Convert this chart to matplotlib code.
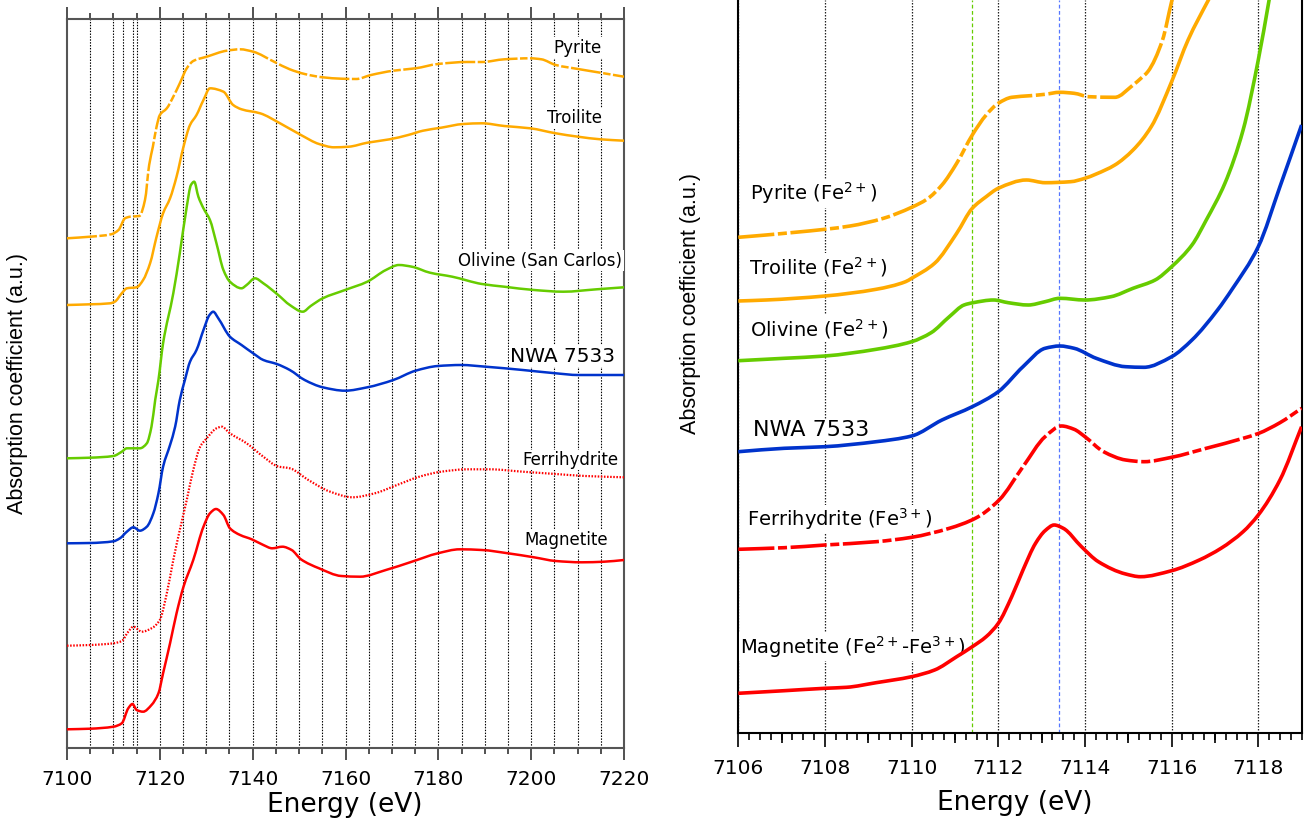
import numpy as np
import matplotlib
matplotlib.use('Agg')
import matplotlib.pyplot as plt
from matplotlib.ticker import MultipleLocator
from matplotlib.path import Path
from matplotlib.patches import PathPatch

plt.rcParams['font.family'] = ['DejaVu Sans']

ORANGE = '#FFAA00'
GREEN = '#66CC00'
BLUE = '#0033CC'
RED = '#FF0000'

# ---------------- Left panel (full XANES, 7100-7220 eV) ----------------
pyr_L_E = [7100, 7105, 7109.5, 7111.1, 7112.5, 7113.6, 7115.6, 7116.8, 7117.7, 7118.5, 7119.3, 7120,
           7121.5, 7122.9, 7124.3, 7125.8, 7127.2, 7130.1, 7134.4, 7137.3, 7140.1, 7144.6, 7148,
           7151.2, 7155.1, 7159.1, 7162.3, 7165.5, 7170.3, 7175.1, 7179.9, 7186.2, 7189.4, 7194.2,
           7199.8, 7202.2, 7205.3, 7210.1, 7214.9, 7220]
pyr_L_mu = [5.097, 5.113, 5.137, 5.18, 5.297, 5.313, 5.32, 5.48, 5.83, 6.013, 6.213, 6.33,
            6.397, 6.513, 6.647, 6.797, 6.87, 6.913, 6.973, 6.987, 6.963, 6.863, 6.787,
            6.74, 6.707, 6.693, 6.69, 6.73, 6.773, 6.797, 6.84, 6.86, 6.86, 6.887,
            6.897, 6.887, 6.83, 6.79, 6.753, 6.713]

tro_L_E = [7100, 7105, 7109.3, 7110.3, 7111.8, 7112.9, 7115, 7116.4, 7117.9, 7119.3, 7120.7, 7122.2,
           7123.6, 7125.1, 7126.5, 7127.9, 7129.4, 7130.8, 7133.7, 7135.8, 7137.6, 7141.6, 7145.9,
           7150.4, 7154.3, 7157.5, 7160.7, 7164.7, 7169.5, 7173.5, 7176.7, 7180.6, 7185.4, 7189.4,
           7194.2, 7199.8, 7205.3, 7210.1, 7214.9, 7220]
tro_L_mu = [4.43, 4.437, 4.447, 4.463, 4.547, 4.597, 4.607, 4.68, 4.847, 5.113, 5.347, 5.497,
            5.713, 6.013, 6.23, 6.33, 6.48, 6.597, 6.563, 6.43, 6.387, 6.347, 6.247,
            6.13, 6.04, 6.007, 6.013, 6.053, 6.087, 6.13, 6.173, 6.203, 6.24, 6.247,
            6.22, 6.197, 6.147, 6.113, 6.087, 6.073]

oli_L_E = [7100, 7105, 7110, 7111.8, 7112.9, 7115.7, 7117.2, 7118.2, 7119, 7119.7, 7120.7, 7122.9,
           7124.3, 7125.8, 7126.7, 7127.4, 7128.3, 7129.4, 7130.8, 7132.2, 7133.7, 7135.1, 7137.6,
           7138.7, 7140.5, 7142.3, 7145.5, 7148, 7150.8, 7152.5, 7155.1, 7159.9, 7164.7, 7168.7,
           7171.5, 7174.3, 7178.2, 7183, 7189.4, 7194.2, 7200.6, 7206.9, 7214.1, 7220]
oli_L_mu = [2.897, 2.903, 2.92, 2.963, 2.997, 2.997, 3.047, 3.213, 3.48, 3.68, 4.047, 4.547,
            4.947, 5.413, 5.63, 5.663, 5.513, 5.397, 5.28, 5.047, 4.78, 4.663, 4.597,
            4.63, 4.697, 4.647, 4.53, 4.43, 4.363, 4.42, 4.497, 4.58, 4.663, 4.78,
            4.83, 4.813, 4.753, 4.713, 4.64, 4.613, 4.58, 4.563, 4.587, 4.607]

nwa_L_E = [7100, 7105, 7110, 7111.4, 7112.9, 7114.3, 7115.7, 7117.2, 7118.6, 7119.7, 7120.7, 7122.2,
           7123.3, 7124.3, 7125.4, 7126.5, 7127.9, 7129.4, 7130.7, 7131.5, 7132.6, 7135.1, 7137.6,
           7140.1, 7142.3, 7145.2, 7148, 7151.2, 7155.1, 7159.9, 7164.7, 7170.3, 7175.1, 7179.9,
           7184.9, 7190.2, 7198.2, 7205.3, 7210.1, 7220]
nwa_L_mu = [2.047, 2.05, 2.067, 2.097, 2.163, 2.207, 2.173, 2.213, 2.347, 2.547, 2.813, 3.03,
            3.213, 3.48, 3.68, 3.863, 3.98, 4.18, 4.33, 4.363, 4.297, 4.113, 4.03,
            3.947, 3.88, 3.84, 3.78, 3.68, 3.607, 3.573, 3.607, 3.68, 3.773, 3.82,
            3.83, 3.813, 3.78, 3.747, 3.73, 3.73]

fer_L_E = [7100, 7105, 7110, 7111.8, 7113.2, 7114.3, 7116.1, 7118.2, 7120, 7121.5, 7122.9, 7124.3,
           7125.8, 7127.2, 7128.7, 7130.1, 7132.2, 7133.3, 7135.1, 7138.7, 7142.3, 7145.5, 7148,
           7152, 7156.7, 7161.5, 7166.3, 7171.1, 7175.9, 7180.6, 7186.2, 7191, 7198.2, 7205.3,
           7211.7, 7220]
fer_L_mu = [1.023, 1.03, 1.047, 1.07, 1.163, 1.213, 1.163, 1.197, 1.28, 1.547, 1.88, 2.18,
            2.48, 2.78, 3.013, 3.097, 3.197, 3.213, 3.147, 3.047, 2.913, 2.815, 2.797,
            2.68, 2.563, 2.507, 2.547, 2.63, 2.713, 2.763, 2.787, 2.787, 2.763, 2.74,
            2.72, 2.707]

mag_L_E = [7100, 7105, 7110, 7111.8, 7113.2, 7114.1, 7115, 7116.4, 7118.2, 7119.7, 7120.7, 7122.2,
           7123.6, 7125.1, 7127.2, 7129.4, 7130.8, 7132.1, 7133.7, 7135.1, 7137.3, 7139.8, 7142.3,
           7144.2, 7146.4, 7148.4, 7150.4, 7154.3, 7159.1, 7163.1, 7168.7, 7174.3, 7179.9, 7184.6,
           7189.4, 7195, 7200.6, 7205.3, 7210.9, 7215.7, 7220]
mag_L_mu = [0.187, 0.193, 0.213, 0.247, 0.397, 0.44, 0.38, 0.363, 0.43, 0.547, 0.747, 1.047,
            1.347, 1.613, 1.88, 2.213, 2.347, 2.39, 2.33, 2.197, 2.13, 2.087, 2.03,
            1.997, 2.013, 1.98, 1.887, 1.797, 1.72, 1.713, 1.78, 1.863, 1.947, 1.987,
            1.98, 1.947, 1.907, 1.87, 1.857, 1.863, 1.88]

grid_L = [7105, 7110, 7112, 7114.3, 7115] + list(range(7120, 7220, 5))

labels_L = ['Pyrite', 'Troilite', 'Olivine (San Carlos)', 'NWA 7533', 'Ferrihydrite', 'Magnetite']
labels_L_E = [7215.25, 7215.25, 7219.65, 7218.05, 7218.85, 7216.46]
labels_L_mu = [6.953, 6.247, 4.823, 3.863, 2.83, 2.03]

# ---------------- Right panel (pre-edge, 7106-7119 eV) ----------------
pyr_R_E = [7106, 7106.64, 7107.31, 7108, 7108.58, 7109.35, 7110, 7110.36, 7110.7, 7111.04, 7111.4,
           7111.72, 7112, 7112.31, 7112.74, 7113.08, 7113.42, 7113.75, 7114.09, 7114.69, 7115.11,
           7115.3, 7115.45, 7115.79, 7116, 7116.1]
pyr_R_mu = [4.957, 4.98, 5.007, 5.037, 5.07, 5.147, 5.257, 5.34, 5.48, 5.697, 5.98,
            6.18, 6.297, 6.357, 6.373, 6.387, 6.407, 6.397, 6.363, 6.357, 6.48,
            6.55, 6.613, 6.93, 7.313, 7.48]

tro_R_E = [7106, 7106.64, 7108, 7109.18, 7109.86, 7110, 7110.53, 7111.04, 7111.4, 7111.72, 7112,
           7112.65, 7113.08, 7113.67, 7114, 7114.26, 7114.69, 7115.11, 7115.53, 7116, 7116.38,
           7116.85, 7117]
tro_R_mu = [4.32, 4.33, 4.37, 4.437, 4.513, 4.547, 4.697, 4.997, 5.247, 5.363, 5.447,
            5.53, 5.503, 5.513, 5.547, 5.59, 5.68, 5.83, 6.063, 6.513, 6.93,
            7.33, 7.45]

oli_R_E = [7106, 7107.06, 7108, 7109.18, 7110, 7110.45, 7110.87, 7111.21, 7111.42, 7111.89, 7112.23,
           7112.69, 7113.08, 7113.42, 7114, 7114.6, 7115.11, 7115.62, 7116, 7116.47, 7116.8,
           7117.23, 7117.65, 7118, 7118.25, 7118.35]
oli_R_mu = [3.723, 3.747, 3.77, 3.837, 3.913, 4.003, 4.163, 4.28, 4.303, 4.33, 4.303,
            4.28, 4.313, 4.347, 4.33, 4.363, 4.447, 4.53, 4.663, 4.88, 5.13,
            5.497, 6.03, 6.73, 7.33, 7.58]

nwa_R_E = [7106, 7107.06, 7108, 7109.18, 7110, 7110.7, 7111.4, 7112, 7112.57, 7113.08, 7113.42,
           7113.75, 7114.26, 7114.94, 7115.36, 7116, 7116.47, 7117.06, 7117.4, 7118,
           7118.5, 7119]
nwa_R_mu = [2.813, 2.847, 2.863, 2.913, 2.97, 3.13, 3.263, 3.413, 3.663, 3.847, 3.87,
            3.847, 3.747, 3.663, 3.657, 3.763, 3.93, 4.23, 4.44, 4.863,
            5.463, 6.08]

fer_R_E = [7106, 7107.06, 7108, 7109.18, 7110, 7110.87, 7111.47, 7112.02, 7112.57, 7113.08, 7113.46,
           7113.75, 7114, 7114.43, 7114.94, 7115.36, 7116, 7116.8, 7117.65, 7118, 7118.5, 7119]
fer_R_mu = [1.837, 1.853, 1.88, 1.913, 1.957, 2.047, 2.147, 2.33, 2.663, 2.963, 3.07,
            3.037, 2.963, 2.813, 2.73, 2.713, 2.757, 2.847, 2.947, 2.995, 3.103, 3.247]

mag_R_E = [7106, 7107.06, 7108, 7108.5, 7109.18, 7110, 7110.53, 7111.04, 7111.4, 7111.72, 7112,
           7112.31, 7112.57, 7112.86, 7113.08, 7113.29, 7113.5, 7113.92, 7114.31, 7114.94, 7115.28,
           7116, 7116.64, 7117.14, 7117.65, 7118, 7118.5, 7119]
mag_R_mu = [0.397, 0.423, 0.447, 0.457, 0.503, 0.563, 0.63, 0.763, 0.863, 0.963, 1.097,
            1.363, 1.63, 1.897, 2.023, 2.08, 2.047, 1.863, 1.713, 1.59, 1.563,
            1.623, 1.73, 1.847, 2.013, 2.18, 2.53, 3.063]

grid_R = [7106, 7108, 7110, 7112, 7114, 7116, 7118]
marker_green_E = 7111.4
marker_blue_E = 7113.4

labels_R = [r'Pyrite (Fe$^{2+}$)', r'Troilite (Fe$^{2+}$)', r'Olivine (Fe$^{2+}$)', 'NWA 7533',
            r'Ferrihydrite (Fe$^{3+}$)', r'Magnetite (Fe$^{2+}$-Fe$^{3+}$)']
labels_R_E = [7106.27, 7106.25, 7106.27, 7106.33, 7106.19, 7106.04]
labels_R_mu = [5.33, 4.59, 3.97, 2.97, 2.073, 0.797]


def smooth_curve(ax, x, y, **kw):
    """Draw a smooth (monotone cubic Hermite / Bezier) curve through the data points."""
    x = np.asarray(x, float)
    y = np.asarray(y, float)
    h = np.diff(x)
    d = np.diff(y) / h
    n = len(x)
    m = np.zeros(n)
    m[0], m[-1] = d[0], d[-1]
    for k in range(1, n - 1):
        if d[k - 1] * d[k] <= 0:
            m[k] = 0.0
        else:
            w1 = 2 * h[k] + h[k - 1]
            w2 = h[k] + 2 * h[k - 1]
            m[k] = (w1 + w2) / (w1 / d[k - 1] + w2 / d[k])
    verts = [(x[0], y[0])]
    codes = [Path.MOVETO]
    for k in range(n - 1):
        verts += [(x[k] + h[k] / 3, y[k] + m[k] * h[k] / 3),
                  (x[k + 1] - h[k] / 3, y[k + 1] - m[k + 1] * h[k] / 3),
                  (x[k + 1], y[k + 1])]
        codes += [Path.CURVE4] * 3
    patch = PathPatch(Path(verts, codes), fill=False, capstyle='butt', joinstyle='round',
                      zorder=4, transform=ax.transData, **kw)
    ax.add_patch(patch)


# ---------------- Figure ----------------
fig = plt.figure(figsize=(13.04, 8.18), dpi=100)
axL = fig.add_axes([67 / 1304, 1 - 748 / 818, 557 / 1304, 729 / 818])
axR = fig.add_axes([738.3 / 1304, 1 - 733 / 818, 563.3 / 1304, 733 / 818])

# Left panel
axL.set_xlim(7100, 7220)
axL.set_ylim(0, 7.29)
for e in grid_L:
    axL.axvline(e, color='black', lw=0.8, ls=(0, (1.3, 1.3)), zorder=1)

lwL = 1.8
smooth_curve(axL, pyr_L_E, pyr_L_mu, edgecolor=ORANGE, lw=lwL, ls=(0, (12, 1, 3, 1)))
smooth_curve(axL, tro_L_E, tro_L_mu, edgecolor=ORANGE, lw=lwL)
smooth_curve(axL, oli_L_E, oli_L_mu, edgecolor=GREEN, lw=lwL)
smooth_curve(axL, nwa_L_E, nwa_L_mu, edgecolor=BLUE, lw=lwL)
smooth_curve(axL, fer_L_E, fer_L_mu, edgecolor=RED, lw=1.6, ls=(0, (0.7, 0.7)))
smooth_curve(axL, mag_L_E, mag_L_mu, edgecolor=RED, lw=lwL)

for txt, e, m in zip(labels_L, labels_L_E, labels_L_mu):
    fs = 14.5 if txt == 'NWA 7533' else 12
    axL.text(e, m, txt, ha='right', va='baseline', fontsize=fs, zorder=3,
             bbox=dict(facecolor='white', edgecolor='none', pad=1.0))

axL.set_yticks([])
axL.xaxis.set_major_locator(MultipleLocator(20))
axL.xaxis.set_minor_locator(MultipleLocator(5))
axL.tick_params(axis='x', which='both', direction='out', top=True, bottom=True,
                labeltop=False, labelsize=14.5, width=1.2, color='#333333')
axL.tick_params(axis='x', which='major', length=8.6, pad=7)
axL.tick_params(axis='x', which='minor', length=4.3)
for sp in axL.spines.values():
    sp.set_color('#555555')
    sp.set_linewidth(1.5)

# Right panel
axR.set_xlim(7106, 7119)
axR.set_ylim(0, 7.33)
for e in grid_R:
    axR.axvline(e, color='#222222', lw=0.9, ls=(0, (1.2, 1.2)), zorder=1)
axR.axvline(marker_green_E, color=GREEN, lw=0.9, ls=(0, (3, 2)), zorder=1)
axR.axvline(marker_blue_E, color='#5577FF', lw=0.9, ls=(0, (3, 2)), zorder=1)

lwR = 2.6
smooth_curve(axR, pyr_R_E, pyr_R_mu, edgecolor=ORANGE, lw=lwR, ls=(0, (10, 1, 2.5, 1)))
smooth_curve(axR, tro_R_E, tro_R_mu, edgecolor=ORANGE, lw=lwR)
smooth_curve(axR, oli_R_E, oli_R_mu, edgecolor=GREEN, lw=lwR)
smooth_curve(axR, nwa_R_E, nwa_R_mu, edgecolor=BLUE, lw=lwR)
smooth_curve(axR, fer_R_E, fer_R_mu, edgecolor=RED, lw=lwR, ls=(0, (10, 1, 2.5, 1)))
smooth_curve(axR, mag_R_E, mag_R_mu, edgecolor=RED, lw=lwR)

for txt, e, m in zip(labels_R, labels_R_E, labels_R_mu):
    fs = 16 if txt == 'NWA 7533' else 14
    axR.text(e, m, txt, ha='left', va='baseline', fontsize=fs, zorder=3,
             bbox=dict(facecolor='white', edgecolor='none', pad=1.0))

axR.set_yticks([])
axR.spines['top'].set_visible(False)
for s in ['left', 'right', 'bottom']:
    axR.spines[s].set_color('black')
    axR.spines[s].set_linewidth(1.5)
axR.xaxis.set_major_locator(MultipleLocator(2))
axR.xaxis.set_minor_locator(MultipleLocator(0.25))
axR.tick_params(axis='x', which='both', direction='out', labelsize=14.5, width=1.2)
axR.tick_params(axis='x', which='major', length=10, pad=9)
axR.tick_params(axis='x', which='minor', length=5)
sec = axR.secondary_xaxis('bottom')
sec.set_xticks([7107, 7109, 7111, 7113, 7115, 7117])
sec.tick_params(axis='x', length=7.5, width=1.2, labelbottom=False, direction='out')
sec.spines['bottom'].set_visible(False)

# Axis titles
fig.text(345 / 1304, 1 - 805 / 818, 'Energy (eV)', ha='center', va='center', fontsize=19)
fig.text(1015 / 1304, 1 - 803 / 818, 'Energy (eV)', ha='center', va='center', fontsize=19)
ylab_font = ['Liberation Sans', 'DejaVu Sans']
fig.text(18 / 1304, 1 - 383 / 818, 'Absorption coefficient (a.u.)', rotation=90,
         ha='center', va='center', fontsize=15.5, family=ylab_font)
fig.text(690 / 1304, 1 - 303 / 818, 'Absorption coefficient (a.u.)', rotation=90,
         ha='center', va='center', fontsize=15.5, family=ylab_font)

fig.savefig('out.png', dpi=100)
